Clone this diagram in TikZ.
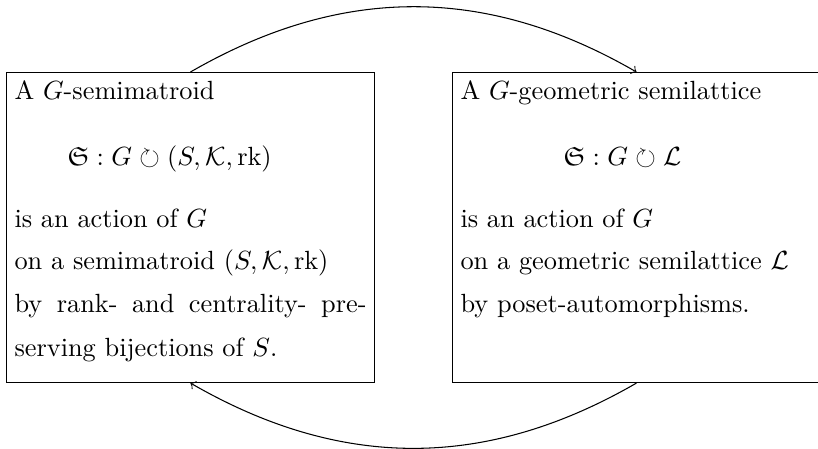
\documentclass[tikz,border=0pt]{standalone}
\usepackage{amssymb}
\begin{document}
\begin{tikzpicture}[x=0.38pt,y=-0.38pt,
  box/.style={draw, line width=0.4pt, inner sep=0pt, anchor=north west,
    minimum width=139.8pt, minimum height=117.8pt},
  txt/.style={anchor=base west, inner sep=0pt},
  arc/.style={->, line width=0.4pt}]
\useasboundingbox (0,0) rectangle (818,448);
\node[box] (L) at (6,72) {};
\node[box] (R) at (452,72) {};
% left box text
\node[txt] (l1) at (14,99) {A $G$-semimatroid};
\node[txt] (l2) at (67,165) {$\mathfrak{S}: G \circlearrowright (S,\mathcal{K},\mathrm{rk})$};
\node[txt] (l3) at (14,227) {is an action of $G$};
\node[txt] (l4) at (14,269) {on a semimatroid $(S,\mathcal{K},\mathrm{rk})$};
\node[txt] (l5) at (14,312) {\makebox[133.8pt][s]{by rank- and centrality- pre-}};
\node[txt] (l6) at (14,356) {serving bijections of $S$.};
% right box text
\node[txt] (r1) at (460,99) {A $G$-geometric semilattice};
\node[txt] (r2) at (563,165) {$\mathfrak{S}: G \circlearrowright \mathcal{L}$};
\node[txt] (r3) at (460,227) {is an action of $G$};
\node[txt] (r4) at (460,269) {on a geometric semilattice $\mathcal{L}$};
\node[txt] (r5) at (460,312) {by poset-automorphisms.};
% connectors
\draw[arc] (L.north) to[bend left=30] (R.north);
\draw[arc] (R.south) to[bend left=30] (L.south);
\end{tikzpicture}
\end{document}
